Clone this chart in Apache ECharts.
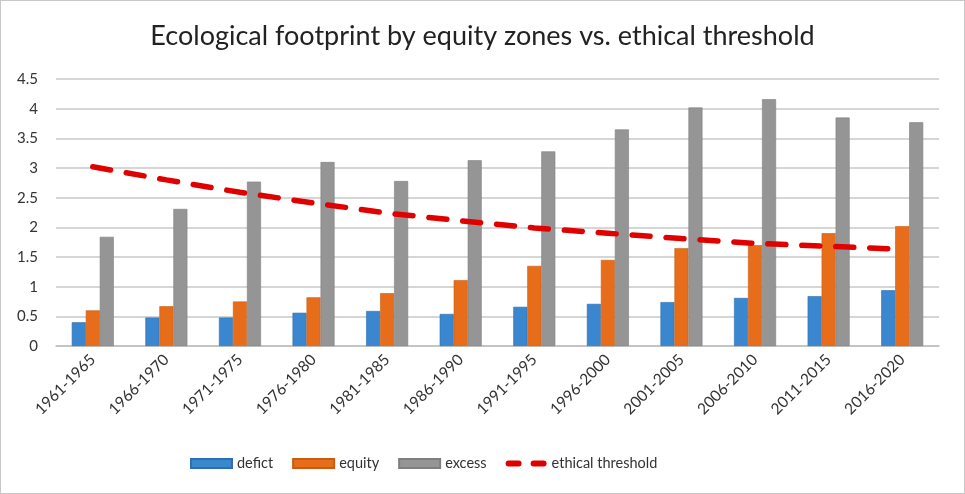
<!DOCTYPE html>
<html>
<head>
<meta charset="utf-8">
<script src="https://cdn.jsdelivr.net/npm/echarts@6/dist/echarts.min.js"></script>
<style>
html,body{margin:0;padding:0;background:#fff;}
#c{width:963px;height:492px;border:1px solid #c8c8c8;}
</style>
</head>
<body>
<div id="c"></div>
<script>
const categories = ["1961-1965","1966-1970","1971-1975","1976-1980","1981-1985","1986-1990","1991-1995","1996-2000","2001-2005","2006-2010","2011-2015","2016-2020"];
const deficit = [0.40,0.48,0.48,0.56,0.59,0.54,0.66,0.71,0.74,0.81,0.84,0.94];
const equity = [0.60,0.67,0.75,0.82,0.89,1.11,1.35,1.45,1.65,1.70,1.90,2.02];
const excess = [1.84,2.31,2.77,3.10,2.78,3.13,3.28,3.65,4.02,4.16,3.85,3.77];
const threshold = [3.02,2.80,2.59,2.41,2.24,2.11,1.99,1.90,1.81,1.73,1.68,1.63];
const yTicks = [0,0.5,1,1.5,2,2.5,3,3.5,4,4.5];

const font = "Lato, 'Open Sans', sans-serif";
const chart = echarts.init(document.getElementById('c'));
const barCommon = {type:'bar', barWidth:14, barGap:'0%'};
const dashIcon = 'path://M3,0 L13,0 A3,3 0 0 1 13,6 L3,6 A3,3 0 0 1 3,0 Z M28,0 L38,0 A3,3 0 0 1 38,6 L28,6 A3,3 0 0 1 28,0 Z';
chart.setOption({
  animation:false,
  textStyle:{fontFamily:font},
  title:{text:'Ecological footprint by equity zones vs. ethical threshold', left:'center', top:17,
    textStyle:{fontFamily:font, fontSize:27, fontWeight:'normal', color:'#222'}},
  legend:{bottom:17, left:184, itemGap:19, itemWidth:41, itemHeight:9,
    textStyle:{fontFamily:font, fontSize:14.5, color:'#333'},
    data:[
      {name:'defict', icon:'rect'},
      {name:'equity', icon:'rect'},
      {name:'excess', icon:'rect'},
      {name:'ethical threshold', icon:dashIcon, itemStyle:{color:'#e00000'}}
    ]},
  grid:{left:55, right:25, top:78, bottom:147},
  xAxis:{type:'category', data:categories,
    axisLine:{lineStyle:{color:'#bfbfbf', width:1.5}},
    axisTick:{show:false},
    axisLabel:{rotate:45, fontSize:15.5, color:'#333', margin:11, fontFamily:font}},
  yAxis:{type:'value', min:yTicks[0], max:yTicks[yTicks.length-1], interval:0.5,
    axisLine:{show:false}, axisTick:{show:false},
    splitLine:{lineStyle:{color:'#c8c8c8', width:1.5}},
    axisLabel:{fontSize:15, color:'#333', margin:18, fontFamily:font}},
  series:[
    Object.assign({name:'defict', data:deficit, itemStyle:{color:'#3a86cf', borderColor:'#2e6fae', borderWidth:0.6}}, barCommon),
    Object.assign({name:'equity', data:equity, itemStyle:{color:'#e86d1a', borderColor:'#c85c12', borderWidth:0.6}}, barCommon),
    Object.assign({name:'excess', data:excess, itemStyle:{color:'#959595', borderColor:'#7f7f7f', borderWidth:0.6}}, barCommon),
    {name:'ethical threshold', type:'line', data:threshold, symbol:'none', smooth:false, z:5,
      itemStyle:{color:'#e00000'},
      lineStyle:{color:'#e00000', width:5.5, type:[18,16], cap:'round'}}
  ]
});
</script>
</body>
</html>
